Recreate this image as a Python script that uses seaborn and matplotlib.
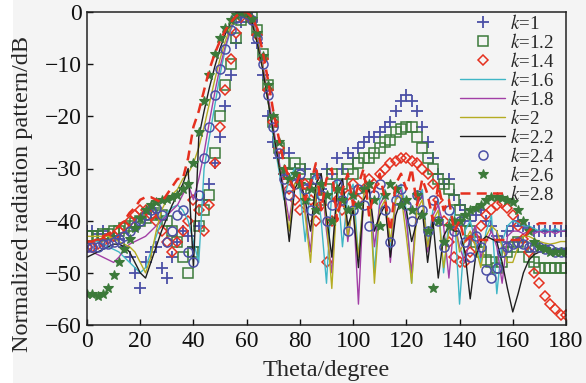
import numpy as np
import pandas as pd
import matplotlib
matplotlib.use("Agg")
import matplotlib.pyplot as plt
import seaborn as sns
from matplotlib.patches import Rectangle

# angles 0..180 step 2
theta = list(range(0, 181, 2))

k_labels = ["1", "1.2", "1.4", "1.6", "1.8", "2", "2.2", "2.4", "2.6", "2.8"]

k1_0 = [-42, -42, -42.5, -42, -42.5, -43, -43.5, -45, -47, -50,
        -53, -48, -46, -45, -49, -51, -47, -44, -42, -43,
        -45, -41, -36, -33, -29, -24, -18, -12, -6, -2,
        0, -1.5, -6, -12, -20, -25, -28, -31, -27, -30,
        -32, -30, -33, -31, -34, -30, -31, -28, -30, -27,
        -28, -26, -25, -24, -24, -23, -22, -21, -19, -17,
        -16, -17, -19, -22, -25, -28, -31, -33, -32, -35,
        -37, -38, -40, -39, -38, -40, -41, -43, -44, -42,
        -41, -40, -41, -41.5, -42, -42, -42, -42, -42, -42,
        -42]

k1_2 = [-43, -43, -43, -42.5, -42.5, -42, -42, -41.5, -41, -40.5,
        -40, -39.5, -39, -38.5, -39, -40, -42, -44, -47, -50,
        -46, -41, -38, -35, -27, -20, -14, -10, -5, -1.5,
        0, -1, -3.5, -8, -14, -21, -26, -29, -31, -29,
        -30, -33, -35, -32, -36, -34, -31, -35, -33, -30,
        -31, -29, -28, -28, -27, -26, -25, -24.5, -23, -22.5,
        -22, -22, -24, -26, -28, -30, -32, -33, -34, -36,
        -38, -40, -42, -44, -46, -47.5, -48, -49, -48, -46,
        -45, -44, -45, -47, -48, -49, -49, -49, -49, -49,
        -49]

k1_4 = [-45, -45, -44.5, -44, -43.5, -43, -42, -41, -40, -39,
        -38, -38, -39, -40, -42, -44, -46, -44, -42, -40,
        -36, -38, -42, -37, -29, -22, -15, -9, -4, -1,
        0, -1.5, -4.5, -9, -15, -21, -26, -31, -34, -36,
        -38, -33, -36, -40, -37, -48, -40, -36, -38, -35,
        -33, -36, -34, -32, -33, -31, -30, -29, -28.5, -28,
        -28, -28.5, -29, -30, -31, -33, -36, -40, -44, -47,
        -48, -48, -46, -43.5, -41, -39, -38, -37, -36.6, -37.5,
        -39, -41, -43.5, -46, -50, -52, -54.5, -56, -57, -58,
        -58]

k1_6 = [-44, -44, -44, -44.5, -45, -45.5, -46, -47, -48, -49,
        -50, -49, -46, -43, -40, -38.5, -37.5, -37, -38, -40,
        -44, -48, -30, -24, -18, -12, -7, -3.5, -1.3, -0.2,
        0, -1.3, -4.5, -10, -17, -24, -30, -36, -32, -30,
        -34, -44, -33, -31, -40, -52, -34, -32, -45, -35,
        -33, -47, -35, -33, -50, -36, -34, -46, -35, -33,
        -38, -52, -36, -34, -45, -38, -36, -50, -40, -38,
        -56, -42, -40, -44, -48, -42, -39, -54, -44, -41,
        -40, -40.5, -41, -41, -41.5, -42, -41.5, -42, -41.5, -42,
        -41.7]

k1_8 = [-46, -46, -46.5, -47, -47.5, -48, -47, -45.5, -44.5, -44,
        -43.5, -43, -42, -41, -40, -39, -38, -37, -35, -33,
        -36, -32, -27, -21, -15.5, -10.5, -6.5, -3.2, -1, -0.1,
        -0.2, -1.6, -5, -10, -16, -22, -28, -34, -40, -33,
        -31, -38, -46, -33, -31, -42, -50, -34, -32, -44,
        -36, -56, -35, -33, -45, -37, -35, -48, -36, -34,
        -40, -50, -37, -35, -46, -39, -37, -41, -51, -40,
        -45, -48, -43, -41, -47, -44, -42, -45, -52, -43,
        -42, -42, -42.5, -42, -42.5, -42, -42.5, -42, -42.5, -42,
        -42]

k2_0 = [-43, -43, -43, -43, -43, -43.5, -44, -44.5, -45, -46,
        -48, -50, -47, -42, -38, -36, -35, -34, -32, -31,
        -29, -26, -22, -17.5, -13, -9, -5.5, -2.8, -0.8, 0,
        -0.3, -1.8, -5.5, -10.5, -17, -23, -29, -35, -42, -33,
        -32, -39, -48, -34, -32, -40, -53, -35, -33, -43,
        -37, -47, -35, -33, -52, -38, -36, -44, -36, -35,
        -43, -52, -38, -36, -45, -40, -38, -49, -42, -40,
        -46, -44, -42, -45, -49, -43, -41, -42, -45, -48,
        -48, -45, -43, -43, -43.5, -44, -44.3, -44.5, -44.3, -44,
        -44]

k2_2 = [-47, -46.5, -46, -45.5, -45, -44.5, -44.5, -45, -46, -48,
        -50, -51, -48, -45, -42, -39.5, -37, -35, -33, -30,
        -49, -24, -19, -14.5, -10.5, -7, -4.2, -2, -0.6, 0,
        -0.4, -2, -6, -11, -17, -23, -29, -35, -44, -34,
        -32, -36, -42, -33, -31, -39, -47, -34, -32, -41,
        -38, -49, -36, -34, -42, -39, -37, -47, -39, -36,
        -38, -44, -40, -38, -48, -40, -51, -43, -41, -42,
        -42, -46, -55, -47, -44, -43, -43.5, -44, -48, -53,
        -57.5, -54, -50, -47.6, -46.5, -46, -45.8, -45.6, -45.6, -45.6,
        -45.6]

k2_4 = [-45, -45, -45, -44.5, -44.5, -44, -43.5, -43, -42, -41,
        -40, -39, -38, -37.5, -39, -44, -42, -39, -38, -46,
        -48, -35, -28, -22, -16, -11, -7, -3.5, -1.2, -0.1,
        -0.3, -1.6, -5, -10, -16, -22, -27, -32, -35, -33,
        -31, -34, -38, -32, -35, -40, -37, -33, -36, -42,
        -38, -34, -37, -41, -35, -33, -38, -44, -36, -34,
        -37, -40, -35, -38, -42, -36, -40, -45, -38, -42,
        -40, -44, -47, -43, -45, -49.5, -51, -49, -46, -45,
        -44.5, -44, -44.5, -45, -45, -45, -45.5, -45.5, -46, -46,
        -46]

k2_6 = [-54, -54, -54.5, -54, -53, -50.5, -48, -45.5, -43.5, -41.5,
        -39.5, -38, -37, -36.5, -36, -35.8, -35.5, -35, -34, -33,
        -29, -23, -17, -12, -8, -5, -3, -1.5, -0.5, 0,
        -0.2, -1.4, -4, -8.5, -14, -20, -25, -30, -32, -31,
        -33, -36, -34, -38, -33, -35, -40, -34, -36, -38,
        -35, -37, -34, -33, -36, -41, -35, -33, -34, -37,
        -36, -38, -35, -39, -42, -53, -40, -44, -41, -40,
        -40, -39, -38, -37.5, -37, -36, -35.5, -35.4, -35.6, -36,
        -36.5, -38, -40, -42, -44, -45, -45.5, -46, -46, -46,
        -46]

k2_8 = [-44, -44, -43.5, -43, -42.5, -42, -41, -40, -38.5, -37.5,
        -36, -35.5, -35.5, -36, -36.5, -35, -33.5, -32, -32, -28,
        -22, -19, -15, -11, -8, -5.5, -3.5, -2, -0.8, -0.1,
        0, -1, -3.2, -7.5, -13, -19, -24, -29, -32, -34,
        -31, -36, -33, -29, -38, -32, -30, -40, -34, -31,
        -37, -33, -30, -39, -34, -31, -36, -42, -33, -31,
        -34, -30, -37, -32, -35, -40, -33, -38, -36, -42,
        -40, -44, -43, -43.5, -43.7, -43.7, -43.7, -43.7, -43.7, -43.7,
        -43.7, -43.7, -43.5, -42, -41, -40.5, -40.5, -40.5, -40.5, -40.5,
        -40.5]

series = [k1_0, k1_2, k1_4, k1_6, k1_8, k2_0, k2_2, k2_4, k2_6, k2_8]

blue = "#4b4fa6"
green = "#3c7a3a"
red = "#e5301f"
styles = [
    dict(color=blue, marker="+", linestyle="none", markersize=8,
         markeredgecolor=blue, markeredgewidth=1.3),
    dict(color=green, marker="s", linestyle="none", markersize=6.5, markerfacecolor="none",
         markeredgecolor=green, markeredgewidth=1.1),
    dict(color=red, marker="D", linestyle="none", markersize=5, markerfacecolor="none",
         markeredgecolor=red, markeredgewidth=1.1),
    dict(color="#3fb6c6", linestyle="-", linewidth=1.0),
    dict(color="#a23fa6", linestyle="-", linewidth=1.0),
    dict(color="#b5ac22", linestyle="-", linewidth=1.0),
    dict(color="#1e1e1e", linestyle="-", linewidth=1.0),
    dict(color=blue, marker="o", linestyle="none", markersize=6.5, markerfacecolor="none",
         markeredgecolor=blue, markeredgewidth=1.1),
    dict(color=green, marker="*", linestyle="none", markersize=7.5, markerfacecolor=green,
         markeredgecolor=green, markeredgewidth=0.8),
    dict(color=red, linestyle=(0, (4, 2.5)), linewidth=1.8),
]

sns.set_theme(style="ticks")
plt.rcParams["font.family"] = ["Liberation Serif", "DejaVu Serif"]
plt.rcParams["mathtext.fontset"] = "stix"

bg = "#f4f4f4"
fig = plt.figure(figsize=(5.86, 3.83), dpi=100, facecolor=bg)
fig.patches.append(Rectangle((0, 0), 13 / 586, 1, transform=fig.transFigure,
                             facecolor="white", edgecolor="none", zorder=-1))
ax = fig.add_axes([87 / 586, 1 - 325 / 383, (566 - 87) / 586, (325 - 12) / 383])
ax.set_facecolor(bg)

handles = []
for vals, lab, st in zip(series, k_labels, styles):
    df = pd.DataFrame({"theta": theta, "dB": vals})
    sns.lineplot(data=df, x="theta", y="dB", ax=ax, sort=False, **st)
    handles.append(ax.lines[-1])

ax.set_xlim(0, 180)
ax.set_ylim(-60, 0)
ax.set_xticks(range(0, 181, 20))
ax.set_yticks(range(-60, 1, 10))
ax.tick_params(direction="in", length=4, width=1, labelsize=17, colors="#111111",
               top=False, right=False, pad=4)
for s in ax.spines.values():
    s.set_linewidth(1.1)
    s.set_color("#222222")
ax.set_xlabel("Theta/degree", fontsize=17.5)
ax.set_ylabel("Normalized radiation pattern/dB", fontsize=17.5)
ax.xaxis.set_label_coords(0.5, -0.112)
ax.yaxis.set_label_coords(-0.113, 0.42)

leg = ax.legend(handles, [r"$k$=" + l for l in k_labels], loc="upper left",
                bbox_to_anchor=((458 - 87) / 479, 1.0), frameon=False, fontsize=13.6,
                handlelength=2.4, handletextpad=0.25, labelspacing=0.0,
                borderaxespad=0.0, borderpad=0.1)

fig.savefig("out.png", dpi=100, facecolor=bg)
